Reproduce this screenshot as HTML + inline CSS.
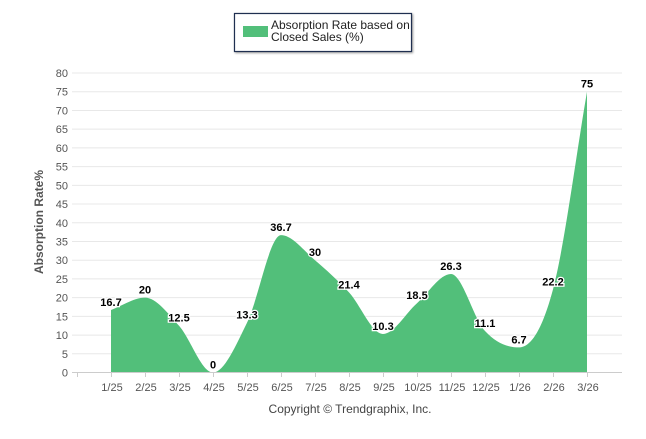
<!DOCTYPE html>
<html><head><meta charset="utf-8"><style>
body{margin:0;background:#fff;width:646px;height:434px;overflow:hidden;font-family:"Liberation Sans",sans-serif}
</style></head><body>
<svg id="c" width="646" height="434" xmlns="http://www.w3.org/2000/svg">
<g>
<rect x="234.5" y="13.5" width="177" height="38" fill="#fff" stroke="#1f2f50" stroke-width="1.2" style="filter:drop-shadow(1px 1px 1px #999)"/>
<rect x="243" y="26" width="25" height="11" fill="#52bf7a"/>
<text x="271" y="29" font-size="12" fill="#222">Absorption Rate based on</text>
<text x="271" y="41" font-size="12" fill="#222">Closed Sales (%)</text>
</g>
<g id="grid"></g>
<g id="area"></g>
<g id="xaxis"></g>
<g id="labels"></g>
<text transform="translate(43,222) rotate(-90)" text-anchor="middle" font-size="12" font-weight="bold" fill="#555">Absorption Rate%</text>
<text x="350" y="413" text-anchor="middle" font-size="12" fill="#444">Copyright © Trendgraphix, Inc.</text>
</svg>
<script>
const categories=["1/25","2/25","3/25","4/25","5/25","6/25","7/25","8/25","9/25","10/25","11/25","12/25","1/26","2/26","3/26"];
const values=[16.7,20,12.5,0,13.3,36.7,30,21.4,10.3,18.5,26.3,11.1,6.7,22.2,75];
const yTicks=[0,5,10,15,20,25,30,35,40,45,50,55,60,65,70,75,80];
const NS="http://www.w3.org/2000/svg";
const x=i=>111+i*34;
const y=v=>372.5-v*(299.5/80);
function mk(tag,attrs,parent,txt){const e=document.createElementNS(NS,tag);for(const k in attrs)e.setAttribute(k,attrs[k]);if(txt!=null)e.textContent=txt;parent.appendChild(e);return e;}
const grid=document.getElementById('grid');
yTicks.forEach(t=>{
 const l=mk('line',{x1:72,x2:622,y1:y(t),y2:y(t),stroke:'#e8e8e8','stroke-width':1},grid);
 
 
 const tx=mk('text',{x:68,y:y(t)+4,'text-anchor':'end','font-size':11,fill:'#555'},grid,t);
 
 
});
// monotone cubic
const n=values.length,px=values.map((v,i)=>x(i)),py=values.map(v=>y(v));
const d=[],m=[];
for(let i=0;i<n-1;i++)d.push((py[i+1]-py[i])/(px[i+1]-px[i]));
for(let i=0;i<n;i++){if(i==0)m.push(d[0]);else if(i==n-1)m.push(d[n-2]);else m.push(d[i-1]*d[i]<=0?0:(d[i-1]+d[i])/2);}
let p=`M${px[0]},${y(0)}L${px[0]},${py[0]}`;
for(let i=0;i<n-1;i++){const h=(px[i+1]-px[i])/3;p+=`C${px[i]+h},${py[i]+m[i]*h} ${px[i+1]-h},${py[i+1]-m[i+1]*h} ${px[i+1]},${py[i+1]}`;}
p+=`L${px[n-1]},${y(0)}Z`;
const a=mk('path',{d:p,fill:'#52bf7a'},document.getElementById('area'));


const xa=document.getElementById('xaxis');
mk('line',{x1:72,x2:622,y1:372.5,y2:372.5,stroke:'#ccc'},xa);
for(let i=-1;i<n;i++)mk('line',{x1:x(i)+0.5+ (i<0?0:0),x2:x(i)+0.5,y1:373,y2:377,stroke:'#ccc'},xa);
categories.forEach((c,i)=>{
 const t=mk('text',{x:x(i)+1,y:391,'text-anchor':'middle','font-size':11,fill:'#555'},xa,c);
 
 
});
const lb=document.getElementById('labels');
values.forEach((v,i)=>{
 const t=mk('text',{x:x(i),y:py[i]-4,'text-anchor':'middle','font-size':11,'font-weight':'bold',fill:'#000',stroke:'#fff','stroke-width':2.5,'paint-order':'stroke'},lb,v);
 
 
});
</script>
</body></html>
